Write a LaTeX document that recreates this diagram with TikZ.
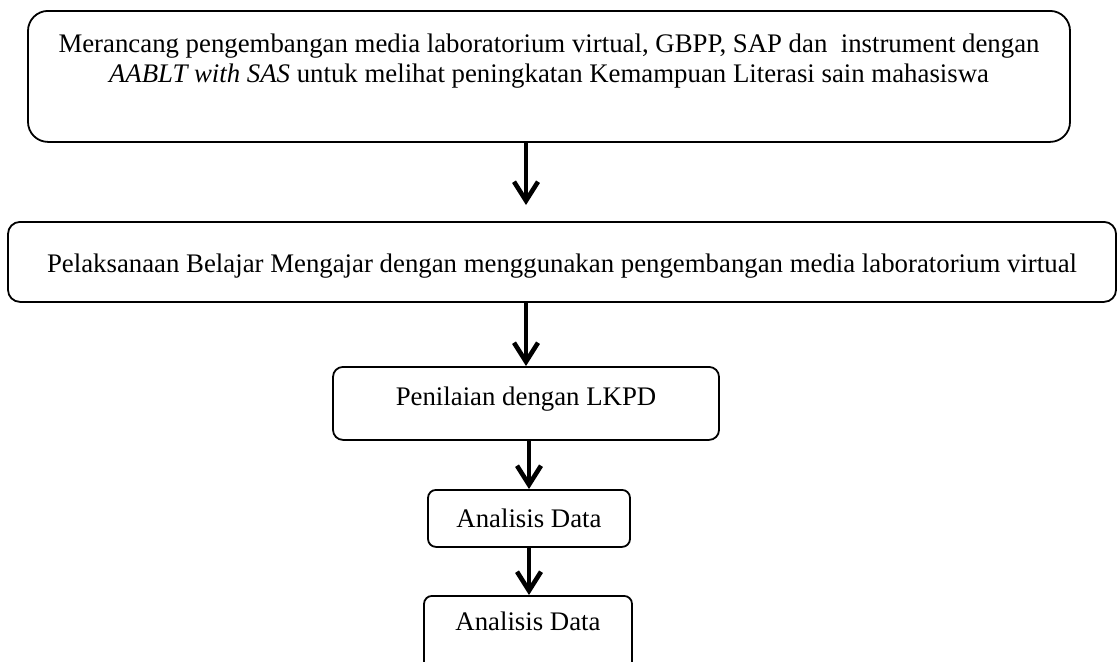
\documentclass[tikz,border=0pt]{standalone}
\usepackage{fontspec}
\setmainfont{Liberation Serif}
\usepackage{tikz}
\usetikzlibrary{arrows.meta, positioning, calc}

\begin{document}
\begin{tikzpicture}[x=0.5pt, y=-0.5pt,
  font=\fontsize{13.4}{15}\selectfont,
  tahap/.style={draw, line width=0.9pt, inner sep=0pt, align=flush center, anchor=north},
  panah/.style={line width=2.3pt, -{Straight Barb[length=9.5pt, width=12pt]}}]
\useasboundingbox (0,0) rectangle (1117,661);

% Kotak tahapan
\node[tahap, rounded corners=10pt, text width=521pt, text height=21pt, text depth=44.5pt] (rancang) at (549,10)
{Merancang pengembangan media laboratorium virtual, GBPP, SAP dan~ instrument dengan\\ \textit{AABLT with SAS} untuk melihat peningkatan Kemampuan Literasi sain mahasiswa};
\node[tahap, rounded corners=6pt, text width=554pt, text height=25.5pt, text depth=14.5pt] (laksana) at (562,221)
{Pelaksanaan Belajar Mengajar dengan menggunakan pengembangan media laboratorium virtual};
\node[tahap, rounded corners=5pt, text width=193pt, text height=19.5pt, text depth=17pt] (nilai) at (526,366)
{Penilaian dengan LKPD};
\node[tahap, rounded corners=4pt, text width=101pt, text height=19pt, text depth=9.5pt] (analisis1) at (529,489)
{Analisis Data};
\node[tahap, rounded corners=4pt, text width=104pt, text height=17.5pt, text depth=20pt] (analisis2) at (528,595)
{Analisis Data};

% Panah alur
\draw[panah, shorten >=8pt] (rancang.south -| nilai.north) -- (laksana.north -| nilai.north);
\draw[panah] (laksana.south -| nilai.north) -- (nilai.north);
\draw[panah] (nilai.south -| analisis1.north) -- (analisis1.north);
\draw[panah] (analisis1.south) -- (analisis1.south |- analisis2.north);

\end{tikzpicture}
\end{document}
